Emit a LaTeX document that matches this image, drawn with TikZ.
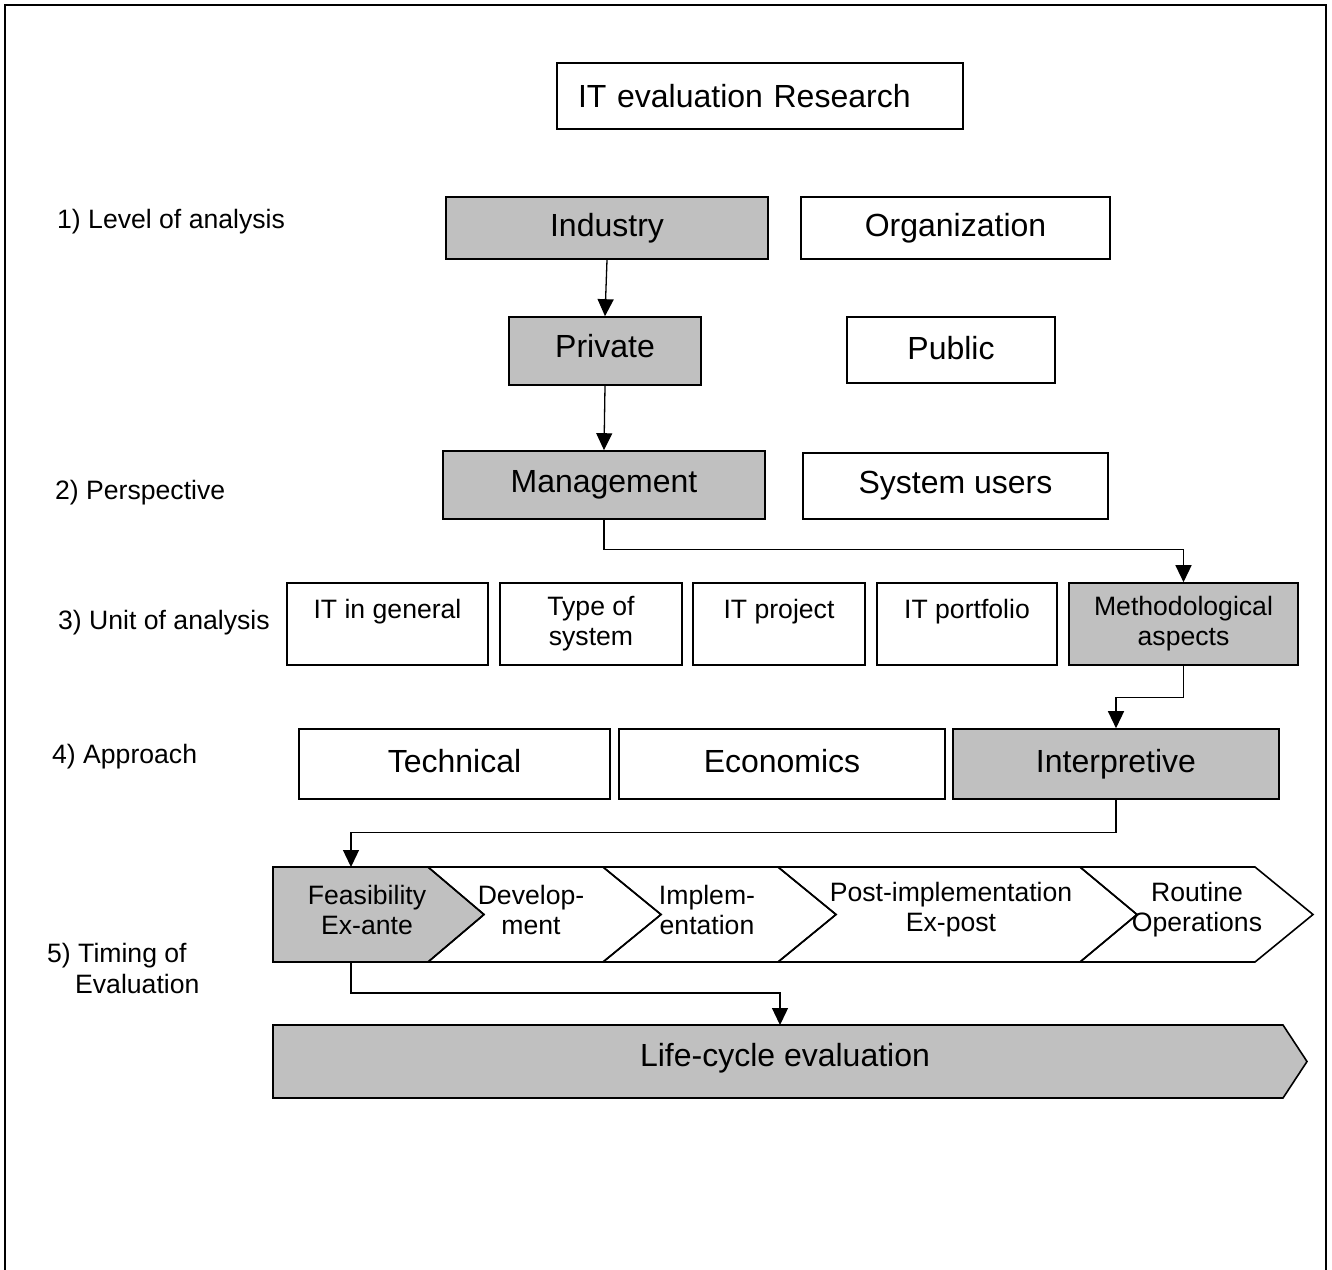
\documentclass[tikz,border=0pt]{standalone}
\usepackage{fontspec}
\setmainfont{Liberation Sans}
\usetikzlibrary{arrows.meta}
\definecolor{boxgray}{HTML}{C0C0C0}
\newcommand{\bigf}{\fontsize{32}{38}\selectfont}
\newcommand{\medf}{\fontsize{26.6}{30}\selectfont}
\newcommand{\labf}{\fontsize{26.6}{31}\selectfont}
\begin{document}
\begin{tikzpicture}[x=1pt,y=-1pt,
  box/.style={draw, line width=1.6pt, inner sep=0pt, align=center},
  bigbox/.style={box, font=\bigf},
  medbox/.style={box, font=\medf},
  sel/.style={fill=boxgray},
  conn/.style={line width=1.3pt, -{Triangle[length=17pt,width=16pt]}},
  lab/.style={anchor=west, font=\labf, inner sep=0pt, align=left},
  chev/.style={draw, line width=1.6pt, line join=miter},
  chevtext/.style={font=\medf, align=center, inner sep=0pt}]
\useasboundingbox (0,0) rectangle (1332,1269);
% outer frame
\draw[line width=2pt] (5,1285) -- (5,5) -- (1326,5) -- (1326,1285);

% title
\node[box, font=\bigf, text width=364pt, inner xsep=21pt, minimum height=66pt, align=left] (title) at (760,96) {IT evaluation Research};

% left labels
\node[lab] (l1) at (57,222) {1) Level of analysis};
\node[lab] (l2) at (55,493) {2) Perspective};
\node[lab] (l3) at (58,623) {3) Unit of analysis};
\node[lab] (l4) at (52,757) {4) Approach};
\node[lab] (l5) at (47,968) {5) Timing of\\\hspace*{28pt}Evaluation};

% level of analysis
\node[bigbox, sel, minimum width=322pt, minimum height=62pt] (industry) at (607,228) {Industry};
\node[bigbox, minimum width=309pt, minimum height=62pt] (org) at (955.5,228) {Organization};
\node[bigbox, sel, minimum width=192pt, minimum height=68pt] (private) at (605,351) {\raisebox{10pt}{Private}};
\node[bigbox, minimum width=208pt, minimum height=66pt] (public) at (951,350) {\raisebox{5pt}{Public}};

% perspective
\node[bigbox, sel, minimum width=322pt, minimum height=68pt] (mgmt) at (604,485) {Management};
\node[bigbox, minimum width=305pt, minimum height=66pt] (users) at (955.5,486) {System users};

% unit of analysis
\node[medbox, minimum width=201pt, minimum height=82pt] (itgen) at (387.5,624) {IT in general\\\mbox{}};
\node[medbox, minimum width=182pt, minimum height=82pt] (type) at (591,624) {Type of\\system};
\node[medbox, minimum width=172pt, minimum height=82pt] (proj) at (779,624) {IT project\\\mbox{}};
\node[medbox, minimum width=180pt, minimum height=82pt] (port) at (967,624) {IT portfolio\\\mbox{}};
\node[medbox, sel, minimum width=229pt, minimum height=82pt] (method) at (1183.5,624) {Methodological\\aspects};

% approach
\node[bigbox, minimum width=311pt, minimum height=70pt] (tech) at (454.5,764) {\raisebox{7pt}{Technical}};
\node[bigbox, minimum width=326pt, minimum height=70pt] (econ) at (782,764) {\raisebox{7pt}{Economics}};
\node[bigbox, sel, minimum width=326pt, minimum height=70pt] (interp) at (1116,764) {Interpretive};

% timing chevrons
\draw[chev, fill=boxgray] (273,867) -- (428,867) -- (484,914.5) -- (428,962) -- (273,962) -- cycle;
\draw[chev] (428,867) -- (603,867) -- (661,914.5) -- (603,962) -- (428,962) -- (484,914.5) -- cycle;
\draw[chev] (603,867) -- (778,867) -- (836,914.5) -- (778,962) -- (603,962) -- (661,914.5) -- cycle;
\draw[chev] (778,867) -- (1080,867) -- (1137,914.5) -- (1080,962) -- (778,962) -- (836,914.5) -- cycle;
\draw[chev] (1080,867) -- (1255,867) -- (1313,914.5) -- (1255,962) -- (1080,962) -- (1137,914.5) -- cycle;
\node[chevtext] (feas) at (367,910) {Feasibility\\Ex-ante};
\node[chevtext] (dev) at (531,910) {Develop-\\ment};
\node[chevtext] (impl) at (707,910) {Implem-\\entation};
\node[chevtext] (post) at (951,910) {Post-implementation\\Ex-post};
\node[chevtext] (routine) at (1197,910) {Routine\\Operations};
\coordinate (feasTop) at (351,867);
\coordinate (feasBot) at (351,962);

% life-cycle
\draw[chev, fill=boxgray] (273,1025) -- (1283,1025) -- (1307,1061.5) -- (1283,1098) -- (273,1098) -- cycle;
\node[font=\bigf, inner sep=0pt] (life) at (785,1058) {Life-cycle evaluation};
\coordinate (lifeTop) at (780,1025);

% connectors
\draw[conn] (industry.south) -- (private.north);
\draw[conn] (private.south) -- (mgmt.north);
\draw[conn] (mgmt.south) -- ++(0,30) -| (method.north);
\draw[conn] (method.south) -- ++(0,32) -| (interp.north);
\draw[conn] (interp.south) -- ++(0,33) -| (feasTop);
\draw[conn] (feasBot) -- ++(0,31) -| (lifeTop);
\end{tikzpicture}
\end{document}
